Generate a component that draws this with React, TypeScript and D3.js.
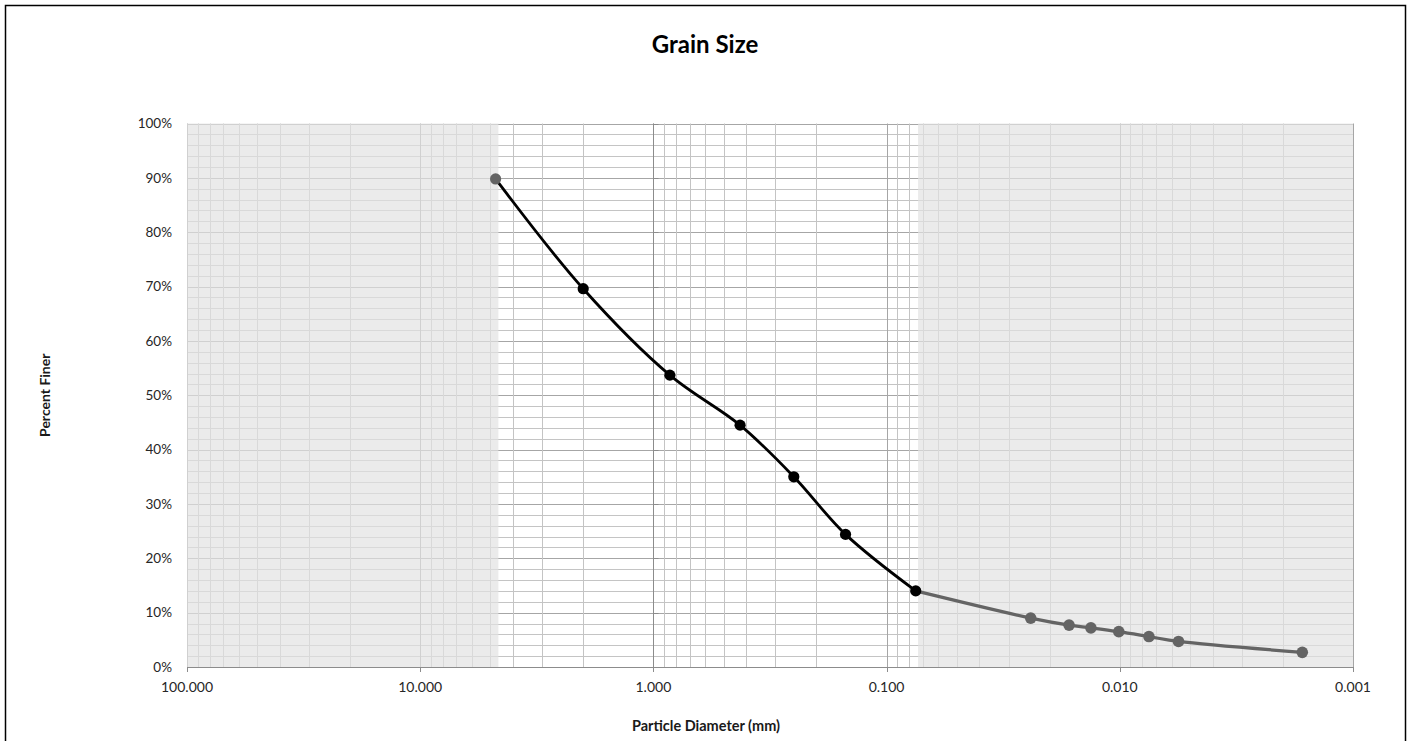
import React from "react";
import * as d3 from "d3";

// sieve analysis (mm, fraction finer)
const sieveSizes = [4.75, 2.0, 0.85, 0.425, 0.25, 0.15, 0.075];
const sievePassing = [0.898, 0.696, 0.537, 0.445, 0.35, 0.244, 0.14];

// hydrometer analysis, starts from the #200 sieve point
const hydroSizes = [0.075, 0.0241, 0.0165, 0.0133, 0.0101, 0.0075, 0.0056, 0.00165];
const hydroPassing = [0.14, 0.09, 0.077, 0.072, 0.065, 0.056, 0.047, 0.027];

// shaded gravel / fines zones (mm)
const gravelZone = [100, 4.62];
const finesZone = [0.0733, 0.001];

const xTickValues = [100, 10, 1, 0.1, 0.01, 0.001];
const yTickValues = [0, 0.1, 0.2, 0.3, 0.4, 0.5, 0.6, 0.7, 0.8, 0.9, 1.0];

const W = 1411;
const H = 741;
const font = "Lato, 'Open Sans', sans-serif";

export default function App() {
  const x = d3.scaleLog().domain([100, 0.001]).range([187, 1353]);
  const y = d3.scaleLinear().domain([0, 1]).range([667, 123.5]);

  const xGrid = x.ticks();
  const isMajor = (v: number) => Math.abs(Math.log10(v) - Math.round(Math.log10(v))) < 1e-6;
  const yGrid = d3.range(0, 1.0001, 0.02);

  const line = d3
    .line<[number, number]>()
    .x((d) => x(d[0]))
    .y((d) => y(d[1]))
    .curve(d3.curveCatmullRom.alpha(0.5));

  const sieve: [number, number][] = sieveSizes.map((s, i) => [s, sievePassing[i]]);
  const hydro: [number, number][] = hydroSizes.map((s, i) => [s, hydroPassing[i]]);

  const [x0, x1] = x.range();
  const [yb, yt] = y.range();

  return (
    <svg
      width={W}
      height={H}
      style={{ position: "absolute", left: 0, top: 0, display: "block", background: "#fff" }}
    >
      <rect x={5.5} y={5.5} width={1400} height={H + 10} fill="#fff" stroke="#000" strokeWidth={1.5} />

      <text x={705} y={53} textAnchor="middle" fontFamily={font} fontWeight="bold" fontSize={24}>
        Grain Size
      </text>

      {/* horizontal grid */}
      {yGrid.map((v, i) => {
        const major = i % 5 === 0;
        return (
          <line
            key={"h" + i}
            x1={x0}
            x2={x1}
            y1={Math.round(y(v)) + 0.5}
            y2={Math.round(y(v)) + 0.5}
            stroke={major ? "#a6a6a6" : "#c4c4c4"}
            strokeWidth={1}
          />
        );
      })}
      {/* vertical grid */}
      {xGrid.map((v, i) => (
        <line
          key={"v" + i}
          x1={Math.round(x(v)) + 0.5}
          x2={Math.round(x(v)) + 0.5}
          y1={yt}
          y2={yb}
          stroke={isMajor(v) ? "#a6a6a6" : "#c4c4c4"}
          strokeWidth={1}
        />
      ))}

      {/* shaded zones */}
      {[gravelZone, finesZone].map((z, i) => (
        <rect
          key={"z" + i}
          x={x(z[0])}
          y={yt}
          width={x(z[1]) - x(z[0])}
          height={yb - yt}
          fill="#e2e2e2"
          opacity={0.7}
        />
      ))}

      {/* y axis crosses at 1.000 */}
      <line x1={Math.round(x(1)) + 0.5} x2={Math.round(x(1)) + 0.5} y1={yt} y2={yb} stroke="#8c8c8c" />
      {yTickValues.map((v, i) => (
        <line
          key={"yt" + i}
          x1={Math.round(x(1)) + 0.5}
          x2={Math.round(x(1)) + 5.5}
          y1={Math.round(y(v)) + 0.5}
          y2={Math.round(y(v)) + 0.5}
          stroke="#8c8c8c"
        />
      ))}
      {/* x axis */}
      <line x1={x0} x2={x1} y1={Math.round(yb) + 0.5} y2={Math.round(yb) + 0.5} stroke="#8c8c8c" />
      {xTickValues.map((v, i) => (
        <line
          key={"xt" + i}
          x1={Math.round(x(v)) + 0.5}
          x2={Math.round(x(v)) + 0.5}
          y1={yb}
          y2={yb + 5}
          stroke="#8c8c8c"
        />
      ))}

      {/* tick labels */}
      {yTickValues.map((v, i) => (
        <text
          key={"yl" + i}
          x={172}
          y={y(v)}
          dy="0.35em"
          textAnchor="end"
          fontFamily={font}
          fontSize={13.5}
          fill="#262626"
        >
          {d3.format(".0%")(v)}
        </text>
      ))}
      {xTickValues.map((v, i) => (
        <text
          key={"xl" + i}
          x={x(v)}
          y={692}
          textAnchor="middle"
          fontFamily={font}
          fontSize={14}
          fill="#262626"
        >
          {d3.format(".3f")(v)}
        </text>
      ))}

      {/* axis titles */}
      <text
        transform={`translate(50,${(yt + yb) / 2}) rotate(-90)`}
        textAnchor="middle"
        fontFamily={font}
        fontWeight="bold"
        fontSize={14}
        fill="#1a1a1a"
      >
        Percent Finer
      </text>
      <text x={706} y={731} textAnchor="middle" fontFamily={font} fontWeight="bold" fontSize={14.5} fill="#1a1a1a">
        Particle Diameter (mm)
      </text>

      {/* curves */}
      <path d={line(hydro) ?? ""} fill="none" stroke="#646464" strokeWidth={3.2} />
      <path d={line(sieve) ?? ""} fill="none" stroke="#000" strokeWidth={2.8} />

      {hydro.slice(1).map((d, i) => (
        <circle key={"hp" + i} cx={x(d[0])} cy={y(d[1])} r={5.8} fill="#646464" />
      ))}
      {sieve.slice(1).map((d, i) => (
        <circle key={"sp" + i} cx={x(d[0])} cy={y(d[1])} r={5.6} fill="#000" />
      ))}
      <circle cx={x(sieve[0][0])} cy={y(sieve[0][1])} r={5.6} fill="#646464" />
    </svg>
  );
}
